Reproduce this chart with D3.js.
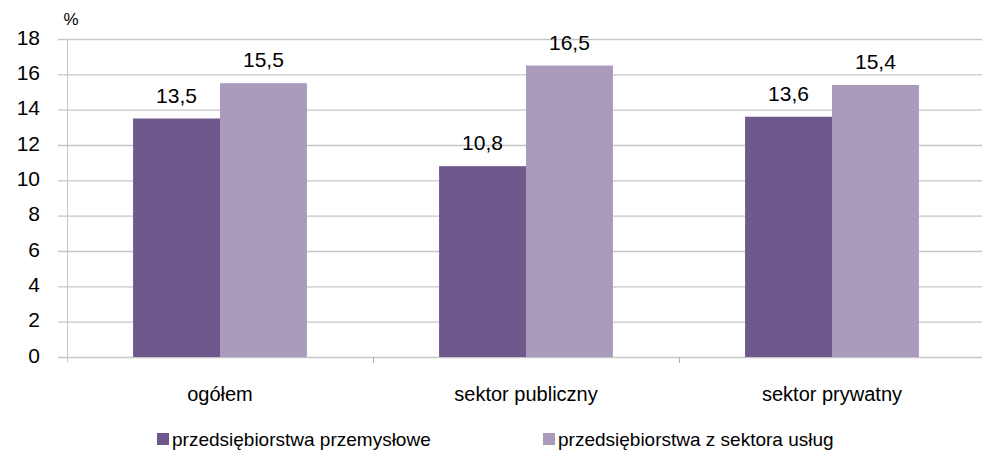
<!DOCTYPE html>
<html>
<head>
<meta charset="utf-8">
<style>
	body { margin: 0; background: #fff; }
	svg text { font-family: "Liberation Sans", Arial, sans-serif; fill: #000; }
</style>
</head>
<body>
<svg width="982" height="458"></svg>
<script src="https://d3js.org/d3.v7.min.js"></script>
<script>

var kategorie = ["ogółem", "sektor publiczny", "sektor prywatny"];
var serie = ["przedsiębiorstwa przemysłowe", "przedsiębiorstwa z sektora usług"];
var przemyslowe = [13.5, 10.8, 13.6];
var uslugi = [15.5, 16.5, 15.4];
var tickiY = [0, 2, 4, 6, 8, 10, 12, 14, 16, 18];
var kolory = ["#6e588c", "#aa9bbd"];

var svg = d3.select("svg"),
	lewo = 67, prawo = 985, gora = 39, dol = 357;

var g = svg.append("g");

var x0 = d3.scaleBand().domain(kategorie).range([lewo, prawo]);
var x1 = d3.scaleBand().domain(serie).range([0, x0.bandwidth()]).paddingOuter(0.76);
var y = d3.scaleLinear().domain([0, 18]).range([dol, gora]);

// linie siatki
g.selectAll(".grid")
	.data(tickiY)
	.enter().append("line")
	.attr("x1", lewo - 9)
	.attr("x2", 982)
	.attr("y1", function (d) { return y(d) + 0.5; })
	.attr("y2", function (d) { return y(d) + 0.5; })
	.attr("stroke", "#c6c6c6")
	.attr("stroke-width", 1.3);

// os Y
g.append("line")
	.attr("x1", lewo + 0.5).attr("x2", lewo + 0.5)
	.attr("y1", gora).attr("y2", dol + 5)
	.attr("stroke", "#c6c6c6")
	.attr("stroke-width", 1);

g.selectAll(".tickY")
	.data(tickiY)
	.enter().append("text")
	.attr("x", 40)
	.attr("y", function (d) { return y(d) + 5.5; })
	.attr("text-anchor", "end")
	.style("font-size", "21px")
	.text(function (d) { return d; });

svg.append("text")
	.attr("x", 71)
	.attr("y", 25)
	.attr("text-anchor", "middle")
	.style("font-size", "17px")
	.text("%");

// kreski kategorii
g.selectAll(".tickX")
	.data(x0.domain().slice(1))
	.enter().append("line")
	.attr("x1", function (d) { return x0(d) + 0.5; })
	.attr("x2", function (d) { return x0(d) + 0.5; })
	.attr("y1", dol)
	.attr("y2", dol + 6)
	.attr("stroke", "#b0b0b0");

var dane = kategorie.map(function (k, i) {
	return { kat: k, wartosci: [przemyslowe[i], uslugi[i]] };
});

var grupy = g.selectAll(".grupa")
	.data(dane)
	.enter().append("g")
	.attr("transform", function (d) { return "translate(" + x0(d.kat) + ",0)"; });

grupy.selectAll("rect")
	.data(function (d) { return d.wartosci.map(function (v, j) { return { s: serie[j], v: v, j: j }; }); })
	.enter().append("rect")
	.attr("x", function (d) { return x1(d.s); })
	.attr("y", function (d) { return y(d.v); })
	.attr("width", x1.bandwidth())
	.attr("height", function (d) { return y(0) - y(d.v); })
	.attr("fill", function (d) { return kolory[d.j]; });

grupy.selectAll(".etykieta")
	.data(function (d) { return d.wartosci.map(function (v, j) { return { s: serie[j], v: v }; }); })
	.enter().append("text")
	.attr("x", function (d) { return x1(d.s) + x1.bandwidth() / 2; })
	.attr("y", function (d) { return y(d.v) - 16; })
	.attr("text-anchor", "middle")
	.style("font-size", "21px")
	.text(function (d) { return String(d.v).replace(".", ","); });

g.selectAll(".katLabel")
	.data(kategorie)
	.enter().append("text")
	.attr("x", function (d) { return x0(d) + x0.bandwidth() / 2; })
	.attr("y", 401)
	.attr("text-anchor", "middle")
	.style("font-size", "20px")
	.text(function (d) { return d; });

// legenda
var legX = [157, 543];
var leg = svg.selectAll(".leg")
	.data(serie)
	.enter().append("g")
	.attr("transform", function (d, i) { return "translate(" + legX[i] + ",433)"; });

leg.append("rect")
	.attr("width", 12).attr("height", 12)
	.attr("fill", function (d, i) { return kolory[i]; });

leg.append("text")
	.attr("x", 15)
	.attr("y", 13)
	.style("font-size", "19px")
	.text(function (d) { return d; });

</script>
</body>
</html>
